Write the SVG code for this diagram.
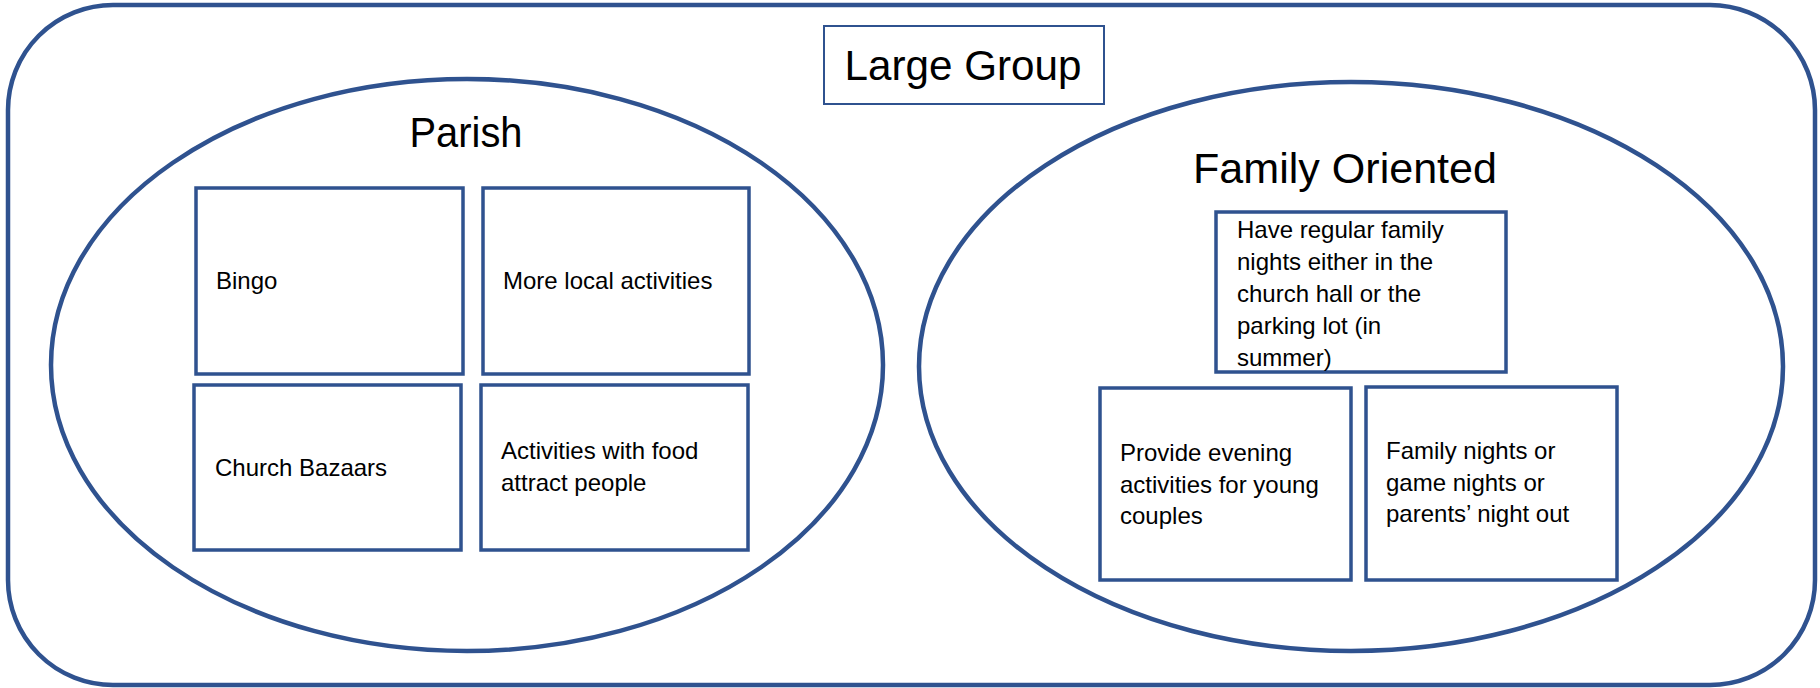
<svg xmlns="http://www.w3.org/2000/svg" width="1820" height="688" viewBox="0 0 1820 688">
<style>
.frame{fill:#FFFFFF;stroke:#2F528F;stroke-width:4.5}
.ell{fill:#FFFFFF;stroke:#2F528F;stroke-width:4.5}
.box{fill:#FFFFFF;stroke:#2F528F;stroke-width:3.5}
.thin{fill:#FFFFFF;stroke:#2F528F;stroke-width:2}
.big{font-family:"Liberation Sans",Arial,sans-serif;font-size:42px;fill:#000000;text-anchor:middle}
.t{font-family:"Liberation Sans",Arial,sans-serif;font-size:24px;fill:#000000}
</style>
<rect width="1820" height="688" fill="#FFFFFF"/>
<g id="large-group">
<rect class="frame" x="8" y="5" width="1807" height="680" rx="105" ry="105"/>
<rect class="thin" x="824" y="26" width="280" height="78"/>
<text class="big" x="963" y="80" textLength="237" lengthAdjust="spacingAndGlyphs">Large Group</text>
</g>
<g id="parish">
<ellipse class="ell" cx="467" cy="365" rx="416" ry="286"/>
<text class="big" x="466" y="147" textLength="113" lengthAdjust="spacingAndGlyphs">Parish</text>
</g>
<g id="family-oriented">
<ellipse class="ell" cx="1351" cy="366.5" rx="432" ry="284.5"/>
<text class="big" x="1345" y="183" textLength="304" lengthAdjust="spacingAndGlyphs">Family Oriented</text>
</g>
<g id="bingo">
<rect class="box" x="196" y="188" width="267" height="186"/>
<text class="t" x="216" y="289">Bingo</text>
</g>
<g id="more-local">
<rect class="box" x="483" y="188" width="266" height="186"/>
<text class="t" x="503" y="289">More local activities</text>
</g>
<g id="church-bazaars">
<rect class="box" x="194" y="385" width="267" height="165"/>
<text class="t" x="215" y="476">Church Bazaars</text>
</g>
<g id="activities-food">
<rect class="box" x="481" y="385" width="267" height="165"/>
<text class="t" x="501" y="459">Activities with food</text>
<text class="t" x="501" y="491">attract people</text>
</g>
<g id="regular-family-nights">
<rect class="box" x="1216" y="212" width="290" height="160"/>
<text class="t" x="1237" y="238">Have regular family</text>
<text class="t" x="1237" y="270">nights either in the</text>
<text class="t" x="1237" y="302">church hall or the</text>
<text class="t" x="1237" y="334">parking lot (in</text>
<text class="t" x="1237" y="366">summer)</text>
</g>
<g id="evening-activities">
<rect class="box" x="1100" y="388" width="251" height="192"/>
<text class="t" x="1120" y="461">Provide evening</text>
<text class="t" x="1120" y="493">activities for young</text>
<text class="t" x="1120" y="524">couples</text>
</g>
<g id="family-game-nights">
<rect class="box" x="1366" y="387" width="251" height="193"/>
<text class="t" x="1386" y="459">Family nights or</text>
<text class="t" x="1386" y="491">game nights or</text>
<text class="t" x="1386" y="522">parents’ night out</text>
</g>
<g id="connectors"></g>
</svg>
